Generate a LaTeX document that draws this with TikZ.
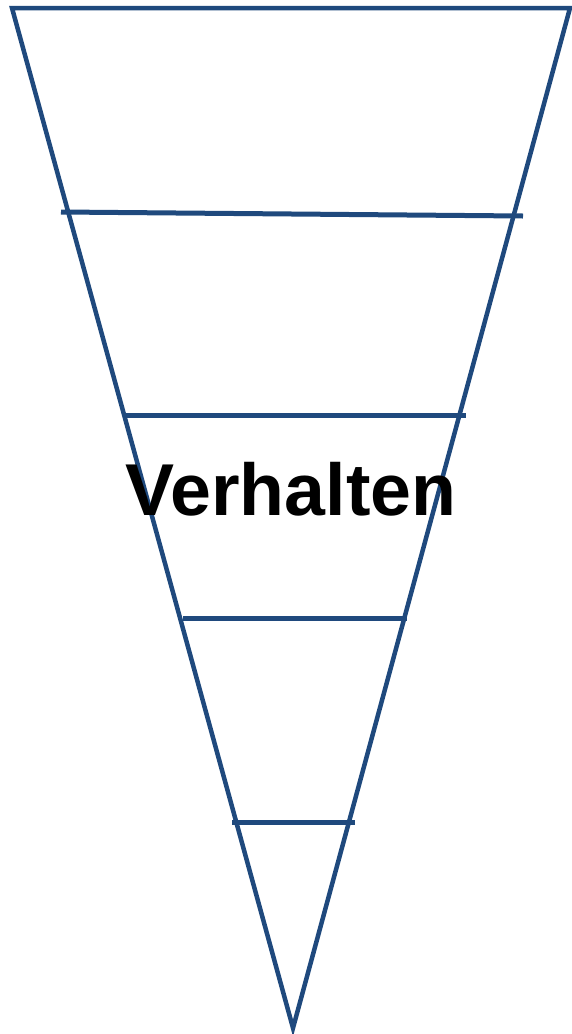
\documentclass[tikz,border=0pt]{standalone}
\usepackage{fontspec}
\setmainfont{Liberation Sans}
\usepackage{tikz}
\usetikzlibrary{positioning, calc}
\definecolor{funnelblue}{RGB}{31,73,125}

\begin{document}
\begin{tikzpicture}[
    x=1pt, y=-1pt,
    funnel/.style={draw=funnelblue, line width=4.5pt, line join=miter},
    divider/.style={draw=funnelblue, line width=5pt},
    biglabel/.style={font=\fontsize{73.5}{73.5}\selectfont\bfseries, inner sep=0pt},
]
\useasboundingbox (0,0) rectangle (572,1034);

% outer triangle
\coordinate (tl) at (12,8);
\coordinate (tr) at (570,8);
\coordinate (apex) at (293,1028);
\draw[funnel] (tl) -- (tr) -- (apex) -- cycle;

% layer lines
\coordinate (l1a) at (61,212);  \coordinate (l1b) at (523,216);
\coordinate (l2a) at (125,415); \coordinate (l2b) at (466,415);
\coordinate (l3a) at (183,618); \coordinate (l3b) at (407,618);
\coordinate (l4a) at (232,822); \coordinate (l4b) at (355,822);
\draw[divider] (l1a) -- (l1b);
\draw[divider] (l2a) -- (l2b);
\draw[divider] (l3a) -- (l3b);
\draw[divider] (l4a) -- (l4b);

% label
\node[biglabel] (verhalten) at (291,489) {Verhalten};

\end{tikzpicture}
\end{document}
